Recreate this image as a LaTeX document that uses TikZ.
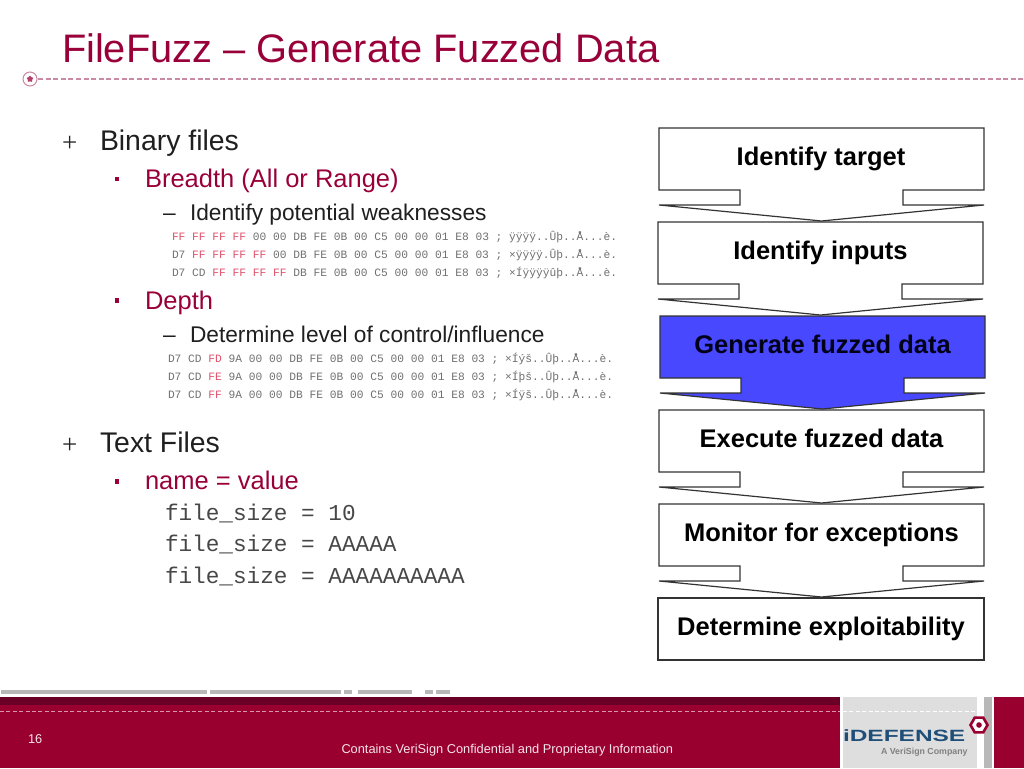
\documentclass[tikz,border=0pt]{standalone}
\usepackage{fontspec}
\usetikzlibrary{shapes.geometric}
\setmainfont{Liberation Sans}
\newfontfamily\monof{Liberation Mono}
\newfontfamily\serf{Liberation Serif}
\definecolor{crim}{HTML}{99003A}
\definecolor{foot}{HTML}{990030}
\definecolor{footdark}{HTML}{6B0026}
\definecolor{dashc}{HTML}{C98AA3}
\definecolor{panel}{HTML}{DEDEDE}
\definecolor{strip}{HTML}{B8B8B8}
\definecolor{hexg}{HTML}{707070}
\definecolor{hexr}{HTML}{E0506A}
\definecolor{blue1}{HTML}{4848FF}
\definecolor{logob}{HTML}{1F4E79}
\newcommand{\fs}[1]{\fontsize{#1}{#1}\selectfont}
\newcommand{\rr}[1]{\textcolor{hexr}{#1}}
\tikzset{
  txt/.style={anchor=base west,inner sep=0pt,outer sep=0pt},
  lvla/.style={txt,font=\fs{28.4},text=black!88},
  lvlb/.style={txt,font=\fs{25.5},text=crim},
  lvlc/.style={txt,font=\fs{22.7},text=black!88},
  hexl/.style={txt,font=\monof\fs{11.24},text=hexg},
  codel/.style={txt,font=\monof\fs{22.7},text=black!72},
  stepbox/.style={draw=black!80,line width=1.2pt,fill=white,line join=miter},
  stept/.style={anchor=base,inner sep=0pt,font=\bfseries\fs{25.5},text=black},
  gstrip/.style={fill=strip,draw=none},
}
% left right top  notchL notchR
\newcommand{\stepshape}[6][white]{%
  \draw[stepbox,fill=#1] (#2,#4) -- (#3,#4) -- (#3,#4+62) -- (#6,#4+62) -- (#6,#4+77)
    -- (#3,#4+77) -- ({(#2+#3)/2},#4+93) -- (#2,#4+77) -- (#5,#4+77) -- (#5,#4+62) -- (#2,#4+62) -- cycle;}
\begin{document}
\begin{tikzpicture}[x=1pt,y=-1pt]
\useasboundingbox (0,0) rectangle (1024,768);
\fill[white] (0,0) rectangle (1024,768);
% title
\node[txt,font=\fs{39.8},text=crim] (title) at (62,63) {FileFuzz – Generate Fuzzed Data};
\draw[dashc,line width=1.7pt,dash pattern=on 5pt off 2.6pt] (38,79) -- (1024,79);
\draw[dashc,line width=1pt] (30,79) circle (7);
\node[star,star points=5,fill=crim!75,inner sep=0pt,minimum size=7pt] (st) at (30,79) {};
% bullets
\node[txt,font=\serf\fs{27},text=black!85] (pa) at (62,151) {+};
\node[lvla] (a1) at (100,150.5) {Binary files};
\fill[crim] (114.5,176.5) rectangle (119,181);
\node[lvlb] (b1) at (145,187) {Breadth (All or Range)};
\node[lvlc] (dc1) at (163,220) {–};
\node[lvlc] (c1) at (190,220) {Identify potential weaknesses};
\node[hexl] (h1) at (172,240.5) {\rr{FF FF FF FF} 00 00 DB FE 0B 00 C5 00 00 01 E8 03 ; ÿÿÿÿ..Ûþ..Å...è.};
\node[hexl] (h2) at (172,258.5) {D7 \rr{FF FF FF FF} 00 DB FE 0B 00 C5 00 00 01 E8 03 ; ×ÿÿÿÿ.Ûþ..Å...è.};
\node[hexl] (h3) at (172,276.5) {D7 CD \rr{FF FF FF FF} DB FE 0B 00 C5 00 00 01 E8 03 ; ×Íÿÿÿÿûþ..Å...è.};
\fill[crim] (114.5,298) rectangle (119,302.5);
\node[lvlb] (b2) at (145,309) {Depth};
\node[lvlc] (dc2) at (163,342) {–};
\node[lvlc] (c2) at (190,342) {Determine level of control/influence};
\node[hexl] (h4) at (168,362) {D7 CD \rr{FD} 9A 00 00 DB FE 0B 00 C5 00 00 01 E8 03 ; ×Íýš..Ûþ..Å...è.};
\node[hexl] (h5) at (168,380) {D7 CD \rr{FE} 9A 00 00 DB FE 0B 00 C5 00 00 01 E8 03 ; ×Íþš..Ûþ..Å...è.};
\node[hexl] (h6) at (168,398) {D7 CD \rr{FF} 9A 00 00 DB FE 0B 00 C5 00 00 01 E8 03 ; ×Íÿš..Ûþ..Å...è.};
\node[txt,font=\serf\fs{27},text=black!85] (pb) at (62,453) {+};
\node[lvla] (a2) at (100,452.5) {Text Files};
\fill[crim] (114.5,479) rectangle (119,483.5);
\node[lvlb] (b3) at (145,489) {name = value};
\node[codel] (f1) at (165,520) {file\_size = 10};
\node[codel] (f2) at (165,551.5) {file\_size = AAAAA};
\node[codel] (f3) at (165,583) {file\_size = AAAAAAAAAA};
% steps
\stepshape{659}{984}{128}{740}{903}
\stepshape{658}{983}{222}{739}{902}
\stepshape[blue1]{660}{985}{316}{741}{904}
\stepshape{659}{984}{410}{740}{903}
\stepshape{659}{984}{504}{740}{903}
\draw[stepbox] (658,598) rectangle (984,660);
\node[stept] (s1) at (821,165.3) {Identify target};
\node[stept] (s2) at (820.5,259.3) {Identify inputs};
\node[stept,text=black!90!blue] (s3) at (822.5,353.3) {Generate fuzzed data};
\node[stept] (s4) at (821.5,447.3) {Execute fuzzed data};
\node[stept] (s5) at (821.5,541.3) {Monitor for exceptions};
\node[stept] (s6) at (821,635.3) {Determine exploitability};
% strips above footer
\fill[gstrip] (1,690) rectangle (207,694);
\fill[gstrip] (210,690) rectangle (341,694);
\fill[gstrip] (344,690) rectangle (352,694);
\fill[gstrip] (358,690) rectangle (412,694);
\fill[gstrip] (425,690) rectangle (433,694);
\fill[gstrip] (436,690) rectangle (450,694);
% footer
\fill[foot] (0,697) rectangle (840,768);
\fill[footdark] (0,697) rectangle (840,705);
\fill[foot] (994,697) rectangle (1024,768);
\fill[panel] (843,697) rectangle (977,768);
\fill[strip] (984,697) rectangle (992,768);
\draw[white!60!foot,line width=1pt,dash pattern=on 4pt off 2.4pt] (0,711) -- (840,711);
\draw[white,line width=.9pt,dash pattern=on 4pt off 2.4pt] (843,711) -- (977,711);
\node[txt,font=\fs{12.8},text=white!90!foot] (pg) at (28,743) {16};
\node[txt,font=\fs{12.8},text=white!90!foot] (cf) at (341.5,753) {Contains VeriSign Confidential and Proprietary Information};
% logo
\node[regular polygon,regular polygon sides=6,draw=foot,line width=2.6pt,fill=white,inner sep=0pt,minimum size=17pt] (hx) at (979,725) {};
\fill[foot] (979,725) circle (2.8);
\node[txt,font=\bfseries\fs{16.3},text=logob,xscale=1.5] (lg) at (843,741.5) {iDEFENSE};
\node[txt,font=\bfseries\fs{8.8},text=black!50] (lv) at (881,754) {A VeriSign Company};
\end{tikzpicture}
\end{document}
